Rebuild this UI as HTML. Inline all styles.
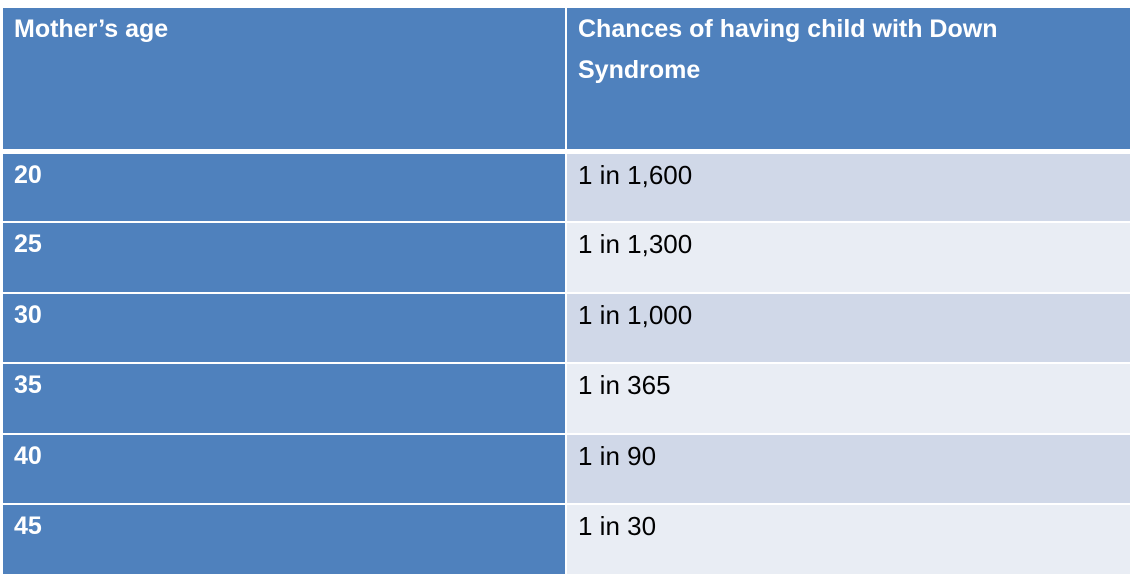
<!DOCTYPE html>
<html><head><style>
body{margin:0;width:1136px;height:578px;background:#fff;position:relative;overflow:hidden;font-family:"Liberation Sans",sans-serif;}
div.c{position:absolute;box-sizing:border-box;padding:10px 0 0 11px;font-size:26px;line-height:41px;}
.b{background:#4f81bd;color:#fff;font-weight:bold;font-size:25px !important;}
.d{background:#d0d8e8;color:#000;}
.l{background:#e9edf4;color:#000;}
div.c span{position:relative;top:-9px;}
</style></head><body>
<div class="c b" style="left:3px;top:8px;width:562px;height:141px"><span>Mother’s age</span></div>
<div class="c b" style="left:567px;top:8px;width:563px;height:141px"><span>Chances of having child with Down<br>Syndrome</span></div>

<div class="c b" style="left:3px;top:154px;width:562px;height:67px"><span>20</span></div>
<div class="c d" style="left:567px;top:154px;width:563px;height:67px"><span>1 in 1,600</span></div>
<div class="c b" style="left:3px;top:223px;width:562px;height:69px"><span>25</span></div>
<div class="c l" style="left:567px;top:223px;width:563px;height:69px"><span>1 in 1,300</span></div>
<div class="c b" style="left:3px;top:294px;width:562px;height:68px"><span>30</span></div>
<div class="c d" style="left:567px;top:294px;width:563px;height:68px"><span>1 in 1,000</span></div>
<div class="c b" style="left:3px;top:364px;width:562px;height:69px"><span>35</span></div>
<div class="c l" style="left:567px;top:364px;width:563px;height:69px"><span>1 in 365</span></div>
<div class="c b" style="left:3px;top:435px;width:562px;height:68px"><span>40</span></div>
<div class="c d" style="left:567px;top:435px;width:563px;height:68px"><span>1 in 90</span></div>
<div class="c b" style="left:3px;top:505px;width:562px;height:69px"><span>45</span></div>
<div class="c l" style="left:567px;top:505px;width:563px;height:69px"><span>1 in 30</span></div>
</body></html>
